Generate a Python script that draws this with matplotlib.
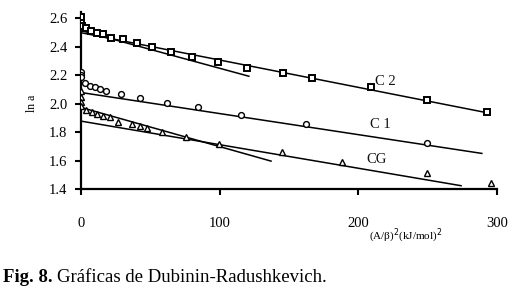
import matplotlib
matplotlib.use("Agg")
import matplotlib.pyplot as plt
import numpy as np

# ---- data ----
c2_x = [0, 0, 1, 3.6, 7, 11.3, 15.6, 21.6, 30.5, 40.1, 51.4, 64.6, 80.2, 98.7, 119.8, 145.7, 166.6, 209, 249.8, 292.4]
c2_y = [2.611, 2.565, 2.546, 2.530, 2.511, 2.499, 2.488, 2.464, 2.453, 2.429, 2.401, 2.361, 2.326, 2.291, 2.249, 2.214, 2.179, 2.116, 2.027, 1.940]

c1_x = [0, 0, 0, 2.9, 6.5, 10.1, 13.7, 18, 28.6, 42.5, 61.7, 84.1, 115.4, 161.9, 249.8]
c1_y = [2.225, 2.20, 2.186, 2.144, 2.125, 2.116, 2.102, 2.090, 2.067, 2.043, 2.009, 1.978, 1.922, 1.858, 1.723]

cg_x = [0, 0, 0, 0, 3.6, 7.7, 11.3, 16.1, 20.9, 26.9, 36.6, 42.6, 47.4, 58.1, 75.4, 99.6, 145, 188.3, 249.8, 295.9]
cg_y = [2.092, 2.050, 2.015, 1.985, 1.956, 1.940, 1.926, 1.916, 1.905, 1.876, 1.857, 1.846, 1.830, 1.800, 1.769, 1.716, 1.660, 1.594, 1.512, 1.442]

# fitted lines: (intercept, slope, x_start, x_end)
fit_c2_a = [2.500, -0.00192, 0, 295]
fit_c2_b = [2.515, -0.00265, 0, 121]
fit_c1 = [2.080, -0.00148, 0, 289]
fit_cg_a = [1.879, -0.001655, 0, 274]
fit_cg_b = [1.975, -0.00275, 0, 137]

labels = ["C 2", "C 1", "CG"]
label_x = [212, 208, 206]
label_y = [2.155, 1.858, 1.613]

x_ticks = [0, 100, 200, 300]
y_ticks = [1.4, 1.6, 1.8, 2.0, 2.2, 2.4, 2.6]

serif = ["Liberation Serif", "DejaVu Serif"]
plt.rcParams["font.family"] = serif

fig = plt.figure(figsize=(5.13, 2.94), dpi=100)
ax = fig.add_axes([0.158, 0.356, 0.811, 0.603])

for fit in [fit_c2_a, fit_c2_b, fit_c1, fit_cg_a, fit_cg_b]:
    b, m, xs, xe = fit
    xx = np.array([xs, xe])
    ax.plot(xx, b + m * xx, color="black", lw=1.1, zorder=2)

ax.plot(c2_x, c2_y, ls="none", marker="s", ms=4.5, mfc="white", mec="black", mew=1.4, zorder=3)
ax.plot(c1_x, c1_y, ls="none", marker="o", ms=4.2, mfc="white", mec="black", mew=1.0, zorder=3)
ax.plot(cg_x, cg_y, ls="none", marker="^", ms=5.0, mfc="white", mec="black", mew=1.0, zorder=3)

for t, lx, ly in zip(labels, label_x, label_y):
    ax.text(lx, ly, t, fontsize=10.5, ha="left", va="center", color="#111111", zorder=4)

ax.set_xlim(0, 300)
ax.set_ylim(1.4, 2.645)
ax.set_xticks(x_ticks)
ax.set_yticks(y_ticks)
ax.set_xticklabels([str(v) for v in x_ticks])
ax.set_yticklabels([f"{v:.1f}" for v in y_ticks])
for s in ["top", "right"]:
    ax.spines[s].set_visible(False)
for s in ["left", "bottom"]:
    ax.spines[s].set_linewidth(1.6)
ax.tick_params(axis="both", direction="out", length=4, width=1.5, labelsize=10.5)
ax.tick_params(axis="x", pad=16)
ax.tick_params(axis="y", pad=6)

fig.text(32 / 513, 1 - 103 / 294, "ln a", rotation=90, fontsize=8.5, ha="center", va="center")
fig.text(406 / 513, 1 - 236 / 294, "(A/β)$^{2}$(kJ/mol)$^{2}$", fontsize=8, ha="center", va="center")

t1 = fig.text(3 / 513, 1 - 277 / 294, "Fig. 8.", fontsize=13.5, fontweight="bold", ha="left", va="center")
fig.canvas.draw()
bb = t1.get_window_extent(renderer=fig.canvas.get_renderer())
fig.text(bb.x1 / fig.bbox.width + 4 / 513, 1 - 277 / 294, "Gráficas de Dubinin-Radushkevich.",
         fontsize=13.5, ha="left", va="center")

fig.savefig("out.png", dpi=100)
